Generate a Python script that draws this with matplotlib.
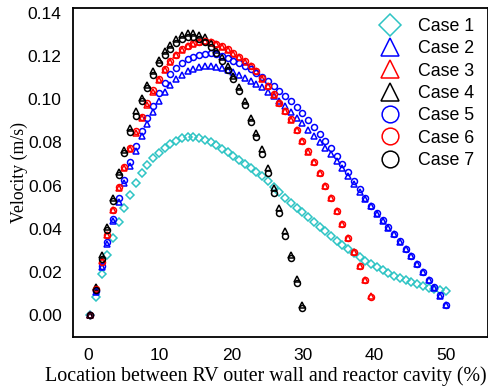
"""Velocity profiles between RV outer wall and reactor cavity."""
import matplotlib

matplotlib.use("Agg")
import matplotlib.pyplot as plt

plt.rcParams["font.family"] = ["Liberation Sans", "DejaVu Sans"]

# sampling positions (% of gap), shared by all cases
x_pos = [0.3, 1.1, 1.9, 2.7, 3.5, 4.3, 5.1, 5.9, 6.7, 7.5, 8.3, 9.1, 9.9, 10.7, 11.5,
         12.3, 13.1, 13.9, 14.7, 15.5, 16.3, 17.1, 17.9, 18.7, 19.5, 20.3, 21.1, 21.9,
         22.7, 23.5, 24.3, 25.1, 25.9, 26.7, 27.5, 28.3, 29.1, 29.9, 30.7, 31.5, 32.3,
         33.1, 33.9, 34.7, 35.5, 36.3, 37.1, 37.9, 38.7, 39.5, 40.3, 41.1, 41.9, 42.7,
         43.5, 44.3, 45.1, 45.9, 46.7, 47.5, 48.3, 49.1, 49.9]

case1 = [0.0, 0.0085, 0.0189, 0.0277, 0.0358, 0.0431, 0.0497, 0.0556, 0.0610, 0.0657,
         0.0694, 0.0726, 0.0753, 0.0776, 0.0794, 0.0809, 0.0819, 0.0825, 0.0826, 0.0822,
         0.0813, 0.0800, 0.0786, 0.0771, 0.0755, 0.0737, 0.0719, 0.0701, 0.0683, 0.0663,
         0.0643, 0.0620, 0.0594, 0.0568, 0.0544, 0.0521, 0.0498, 0.0476, 0.0453, 0.0431,
         0.0410, 0.0388, 0.0365, 0.0343, 0.0323, 0.0304, 0.0286, 0.0268, 0.0252, 0.0236,
         0.0221, 0.0207, 0.0194, 0.0181, 0.0170, 0.0160, 0.0151, 0.0142, 0.0134, 0.0127,
         0.0121, 0.0116, 0.0110]
case2 = [0.0, 0.0105, 0.0220, 0.0330, 0.0435, 0.0525, 0.0610, 0.0690, 0.0762, 0.0828,
         0.0885, 0.0940, 0.0990, 0.1035, 0.1068, 0.1095, 0.1115, 0.1130, 0.1142, 0.1150,
         0.1153, 0.1153, 0.1150, 0.1145, 0.1137, 0.1127, 0.1113, 0.1100, 0.1087, 0.1072,
         0.1055, 0.1036, 0.1015, 0.0993, 0.0968, 0.0942, 0.0915, 0.0888, 0.0860, 0.0832,
         0.0804, 0.0776, 0.0747, 0.0716, 0.0682, 0.0645, 0.0608, 0.0572, 0.0538, 0.0504,
         0.0470, 0.0437, 0.0405, 0.0373, 0.0340, 0.0306, 0.0271, 0.0235, 0.0199, 0.0163,
         0.0127, 0.0089, 0.0045]
case3 = [0.0, 0.0125, 0.0250, 0.0372, 0.0488, 0.0589, 0.0681, 0.0770, 0.0845, 0.0913,
         0.0975, 0.1035, 0.1088, 0.1135, 0.1174, 0.1205, 0.1230, 0.1247, 0.1259, 0.1267,
         0.1270, 0.1267, 0.1258, 0.1245, 0.1230, 0.1212, 0.1195, 0.1175, 0.1155, 0.1130,
         0.1095, 0.1060, 0.1022, 0.0982, 0.0945, 0.0905, 0.0857, 0.0807, 0.0758, 0.0707,
         0.0656, 0.0598, 0.0542, 0.0481, 0.0420, 0.0357, 0.0292, 0.0225, 0.0160, 0.0086]
case4 = [0.0, 0.0130, 0.0280, 0.0410, 0.0540, 0.0665, 0.0765, 0.0865, 0.0945, 0.1007,
         0.1068, 0.1130, 0.1184, 0.1222, 0.1253, 0.1280, 0.1298, 0.1308, 0.1307, 0.1300,
         0.1288, 0.1262, 0.1230, 0.1195, 0.1155, 0.1110, 0.1055, 0.0990, 0.0915, 0.0845,
         0.0768, 0.0683, 0.0590, 0.0495, 0.0390, 0.0280, 0.0165, 0.0045]
case5 = [0.0, 0.0110, 0.0228, 0.0340, 0.0445, 0.0540, 0.0628, 0.0708, 0.0785, 0.0852,
         0.0913, 0.0970, 0.1028, 0.1078, 0.1116, 0.1145, 0.1167, 0.1185, 0.1198, 0.1207,
         0.1212, 0.1214, 0.1210, 0.1202, 0.1192, 0.1180, 0.1167, 0.1154, 0.1139, 0.1122,
         0.1104, 0.1084, 0.1062, 0.1040, 0.1015, 0.0990, 0.0963, 0.0935, 0.0905, 0.0872,
         0.0839, 0.0806, 0.0773, 0.0738, 0.0701, 0.0662, 0.0622, 0.0582, 0.0544, 0.0506,
         0.0472, 0.0438, 0.0406, 0.0374, 0.0341, 0.0307, 0.0272, 0.0236, 0.0200, 0.0164,
         0.0128, 0.0090, 0.0046]
case6 = [0.0, 0.0120, 0.0245, 0.0370, 0.0488, 0.0592, 0.0686, 0.0776, 0.0852, 0.0920,
         0.0982, 0.1042, 0.1094, 0.1140, 0.1178, 0.1208, 0.1232, 0.1249, 0.1261, 0.1268,
         0.1271, 0.1268, 0.1259, 0.1247, 0.1232, 0.1215, 0.1197, 0.1177, 0.1156, 0.1131,
         0.1097, 0.1062, 0.1024, 0.0985, 0.0947, 0.0907, 0.0859, 0.0809, 0.0760, 0.0709,
         0.0657, 0.0600, 0.0544, 0.0483, 0.0421, 0.0358, 0.0293, 0.0226, 0.0160, 0.0085]
case7 = [0.0, 0.0117, 0.0258, 0.0395, 0.0527, 0.0650, 0.0750, 0.0848, 0.0923, 0.0990,
         0.1052, 0.1114, 0.1168, 0.1207, 0.1235, 0.1262, 0.1280, 0.1290, 0.1289, 0.1278,
         0.1268, 0.1245, 0.1213, 0.1178, 0.1138, 0.1093, 0.1040, 0.0972, 0.0895, 0.0825,
         0.0745, 0.0660, 0.0567, 0.0473, 0.0368, 0.0262, 0.0147, 0.0030]

cases = [case1, case2, case3, case4, case5, case6, case7]
labels = ["Case 1", "Case 2", "Case 3", "Case 4", "Case 5", "Case 6", "Case 7"]
colors = ["#2EC4C4", "#0000FF", "#FF0000", "#000000", "#0000FF", "#FF0000", "#000000"]
markers = ["D", "^", "^", "^", "o", "o", "o"]
msizes = [4.0, 4.6, 4.6, 4.6, 4.3, 4.3, 4.3]

fig = plt.figure(figsize=(4.89, 3.89), dpi=100)
ax = fig.add_axes([0.149, 0.134, 0.849, 0.845])

for vals, lab, col, mk, ms in zip(cases, labels, colors, markers, msizes):
    ax.plot(x_pos[:len(vals)], vals, linestyle="none", marker=mk, markersize=ms,
            markerfacecolor="none", markeredgecolor=col, markeredgewidth=1.1, label=lab)

ax.set_xlim(-2.1, 55.8)
ax.set_ylim(-0.0102, 0.1423)
ax.set_xticks([0, 10, 20, 30, 40, 50])
ax.set_yticks([0.0, 0.02, 0.04, 0.06, 0.08, 0.10, 0.12, 0.14])
ax.set_yticklabels(["0.00", "0.02", "0.04", "0.06", "0.08", "0.10", "0.12", "0.14"])
ax.tick_params(length=0, labelsize=12.5, pad=8)
for sp in ax.spines.values():
    sp.set_linewidth(1.3)

serif = ["Liberation Serif", "DejaVu Serif"]
ax.set_xlabel("Location between RV outer wall and reactor cavity (%)", family=serif,
              fontsize=14.4)
ax.set_ylabel("Velocity (m/s)", family=serif, fontsize=12.8)
ax.xaxis.set_label_coords(0.465, -0.088)
ax.yaxis.set_label_coords(-0.108, 0.5)

ax.legend(loc="upper right", bbox_to_anchor=(0.99, 1.0), frameon=False, fontsize=12.8,
          markerscale=2.8, handlelength=1.2, handletextpad=1.0, labelspacing=0.3,
          borderaxespad=0.15)

fig.savefig("out.png", dpi=100)
